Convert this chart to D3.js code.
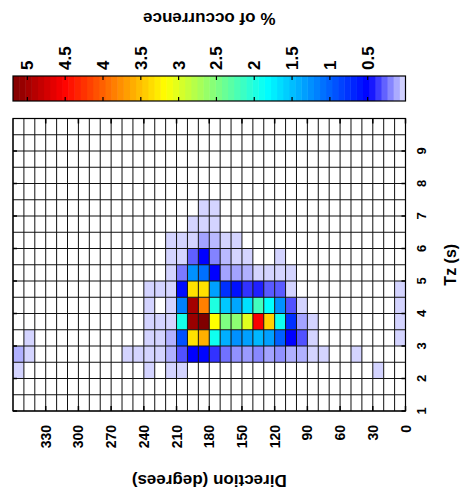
<!DOCTYPE html>
<html>
<head>
<meta charset="utf-8">
<script src="https://cdn.jsdelivr.net/npm/d3@7"></script>
<style>
  body { margin: 0; background: #fff; }
  text { font-family: "Liberation Sans", Arial, sans-serif; fill: #000; font-weight: bold; }
</style>
</head>
<body>
<svg id="chart" width="464" height="495"></svg>
<script>
// direction bins (start of each 10 degree bin) and Tz bins (start of each 0.5 s bin)
const dirBins = d3.range(0, 360, 10);
const tzBins = [2, 2.5, 3, 3.5, 4, 4.5, 5, 5.5, 6, 6.5, 7];

// % of occurrence, one array per Tz bin, index = direction bin (0..350)
const pctTz2_0 = [0,0,.03,0,0,0,0,0,0,0, 0,0,0,0,0,0,0,0,0,0, .03,.03,0,.03,0,0,0,0,0,0, 0,0,0,0,0,.03];
const pctTz2_5 = [0,0,0,0,.03,0,0,.03,.03,.11, .11,.18,.14,.2,.16,.18,.25,.39,.52,.5, .32,.11,.03,.03,.03,.03,0,0,0,0, 0,0,0,0,.03,.11];
const pctTz3_0 = [.03,0,0,0,0,0,0,0,.03,.32, .5,1.0,1.34,1.46,1.34,1.26,1.42,1.92,3.6,3.34, .92,.11,.03,.03,0,0,0,0,0,0, 0,0,0,0,.03,0];
const pctTz3_5 = [.03,0,0,0,0,0,0,0,.03,.14, .75,1.92,3.42,4.55,3.02,2.58,2.5,3.18,5.19,5.05, 1.95,.03,.03,.03,0,0,0,0,0,0, 0,0,0,0,0,0];
const pctTz4_0 = [.03,0,0,0,0,0,0,0,0,.03, .32,1.26,1.84,2.18,1.68,1.38,1.55,2.0,3.85,5.0, 1.17,.03,0,.03,0,0,0,0,0,0, 0,0,0,0,0,0];
const pctTz4_5 = [.03,0,0,0,0,0,0,0,0,0, .03,.3,.3,.43,.39,.58,.75,1.34,3.34,3.34, .55,.03,.03,.03,0,0,0,0,0,0, 0,0,0,0,0,0];
const pctTz5_0 = [0,0,0,0,0,0,0,0,0,0, .03,.03,.03,.03,.11,.14,.14,.5,1.09,1.26, .23,.03,0,0,0,0,0,0,0,0, 0,0,0,0,0,0];
const pctTz5_5 = [0,0,0,0,0,0,0,0,0,0, 0,.03,0,0,.03,.03,.09,.21,.5,.29, .03,.03,0,0,0,0,0,0,0,0, 0,0,0,0,0,0];
const pctTz6_0 = [0,0,0,0,0,0,0,0,0,0, 0,0,0,0,0,.03,.03,.09,.14,.03, .03,.03,0,0,0,0,0,0,0,0, 0,0,0,0,0,0];
const pctTz6_5 = [0,0,0,0,0,0,0,0,0,0, 0,0,0,0,0,0,0,.03,.03,.03, 0,0,0,0,0,0,0,0,0,0, 0,0,0,0,0,0];
const pctTz7_0 = [0,0,0,0,0,0,0,0,0,0, 0,0,0,0,0,0,0,.03,.03,0, 0,0,0,0,0,0,0,0,0,0, 0,0,0,0,0,0];
const pctRows = [pctTz2_0, pctTz2_5, pctTz3_0, pctTz3_5, pctTz4_0, pctTz4_5,
                 pctTz5_0, pctTz5_5, pctTz6_0, pctTz6_5, pctTz7_0];

const dirTicks = d3.range(0, 360, 30);
const tzTicks = [1, 2, 3, 4, 5, 6, 7, 8, 9];
const cbarTicks = [0.5, 1, 1.5, 2, 2.5, 3, 3.5, 4, 4.5, 5];

const svg = d3.select("#chart");
const plotLeft = 13, plotRight = 405.5, plotTop = 118.5, plotBottom = 411;

const x = d3.scaleLinear().domain([0, 360]).range([plotRight, plotLeft]);
const y = d3.scaleLinear().domain([1, 10]).range([plotBottom, plotTop]);

let cells = [];
pctRows.forEach(function(row, r) {
	row.forEach(function(v, i) {
		if (v > 0) cells.push({ dir: dirBins[i], tz: tzBins[r], pct: v });
	});
});
const vmax = d3.max(cells, d => d.pct);

// white -> blue up to 0.5, then jet from blue to dark red
const low = d3.interpolateRgb("rgb(226,226,255)", "rgb(0,0,255)");
function jet(t) {
	let c = k => Math.round(255 * Math.max(0, Math.min(1, 1.5 - Math.abs(4 * t - k))));
	return "rgb(" + c(3) + "," + c(2) + "," + c(1) + ")";
}
function colour(v) {
	if (v <= 0.5) return low(v / 0.5);
	return jet(0.125 + 0.875 * (v - 0.5) / (vmax - 0.5));
}

// cells
svg.append("g").selectAll("rect")
	.data(cells)
	.enter().append("rect")
	.attr("x", d => x(d.dir + 10))
	.attr("y", d => y(d.tz + 0.5))
	.attr("width", d => x(d.dir) - x(d.dir + 10))
	.attr("height", d => y(d.tz) - y(d.tz + 0.5))
	.style("fill", d => colour(d.pct));

// grid
let grid = svg.append("g").style("stroke", "#111").style("stroke-width", 1);
grid.selectAll(".v").data(d3.range(0, 370, 10)).enter().append("line")
	.attr("x1", d => x(d)).attr("x2", d => x(d))
	.attr("y1", plotTop).attr("y2", plotBottom);
grid.selectAll(".h").data(d3.range(1, 10.5, 0.5)).enter().append("line")
	.attr("y1", d => y(d)).attr("y2", d => y(d))
	.attr("x1", plotLeft).attr("x2", plotRight);

svg.append("rect")
	.attr("x", plotLeft).attr("y", plotTop)
	.attr("width", plotRight - plotLeft).attr("height", plotBottom - plotTop)
	.style("fill", "none").style("stroke", "#000").style("stroke-width", 1.2);

// ticks
let ticks = svg.append("g").style("stroke", "#000").style("stroke-width", 1.5);
dirTicks.forEach(function(d) {
	ticks.append("line").attr("x1", x(d)).attr("x2", x(d)).attr("y1", plotTop).attr("y2", plotTop + 5);
	ticks.append("line").attr("x1", x(d)).attr("x2", x(d)).attr("y1", plotBottom).attr("y2", plotBottom - 5);
});
tzTicks.forEach(function(d) {
	ticks.append("line").attr("x1", plotLeft).attr("x2", plotLeft + 4).attr("y1", y(d)).attr("y2", y(d));
	ticks.append("line").attr("x1", plotRight).attr("x2", plotRight - 4).attr("y1", y(d)).attr("y2", y(d));
});

// direction tick labels (rotated)
svg.append("g").selectAll("text")
	.data(dirTicks)
	.enter().append("text")
	.attr("transform", d => "translate(" + (x(d) + 5) + "," + 425 + ") rotate(-90)")
	.attr("text-anchor", "end")
	.style("font-size", "14px")
	.text(d => d);

// Tz tick labels
svg.append("g").selectAll("text")
	.data(tzTicks)
	.enter().append("text")
	.attr("transform", d => "translate(" + 426 + "," + y(d) + ") rotate(-90)")
	.attr("text-anchor", "middle")
	.style("font-size", "13px")
	.text(d => d);

svg.append("text")
	.attr("transform", "translate(" + 456 + "," + ((plotTop + plotBottom) / 2) + ") rotate(-90)")
	.attr("text-anchor", "middle")
	.style("font-size", "16px")
	.text("Tz (s)");

svg.append("text")
	.attr("transform", "translate(" + ((plotLeft + plotRight) / 2) + "," + 475 + ") rotate(180)")
	.attr("text-anchor", "middle")
	.style("font-size", "17px")
	.text("Direction (degrees)");

// colour bar
const cbTop = 76, cbBottom = 101;
const cx = d3.scaleLinear().domain([0, vmax]).range([plotRight, plotLeft]);
const nSteps = 64;
svg.append("g").selectAll("rect")
	.data(d3.range(nSteps))
	.enter().append("rect")
	.attr("x", i => cx((i + 1) * vmax / nSteps))
	.attr("y", cbTop)
	.attr("width", i => cx(i * vmax / nSteps) - cx((i + 1) * vmax / nSteps) + 0.5)
	.attr("height", cbBottom - cbTop)
	.style("fill", i => colour((i + 0.5) * vmax / nSteps));
svg.append("rect")
	.attr("x", plotLeft).attr("y", cbTop)
	.attr("width", plotRight - plotLeft).attr("height", cbBottom - cbTop)
	.style("fill", "none").style("stroke", "#000").style("stroke-width", 1.2);
let cbt = svg.append("g").style("stroke", "#000").style("stroke-width", 1.2);
cbarTicks.forEach(function(v) {
	cbt.append("line").attr("x1", cx(v)).attr("x2", cx(v)).attr("y1", cbTop).attr("y2", cbTop + 4);
	cbt.append("line").attr("x1", cx(v)).attr("x2", cx(v)).attr("y1", cbBottom).attr("y2", cbBottom - 4);
});
svg.append("g").selectAll("text")
	.data(cbarTicks)
	.enter().append("text")
	.attr("transform", d => "translate(" + (cx(d) + 6) + "," + 70 + ") rotate(-90)")
	.attr("text-anchor", "start")
	.style("font-size", "17px")
	.text(d => d);

svg.append("text")
	.attr("transform", "translate(" + ((plotLeft + plotRight) / 2) + "," + 13 + ") rotate(180)")
	.attr("text-anchor", "middle")
	.style("font-size", "17px")
	.text("% of occurrence");
</script>
</body>
</html>
